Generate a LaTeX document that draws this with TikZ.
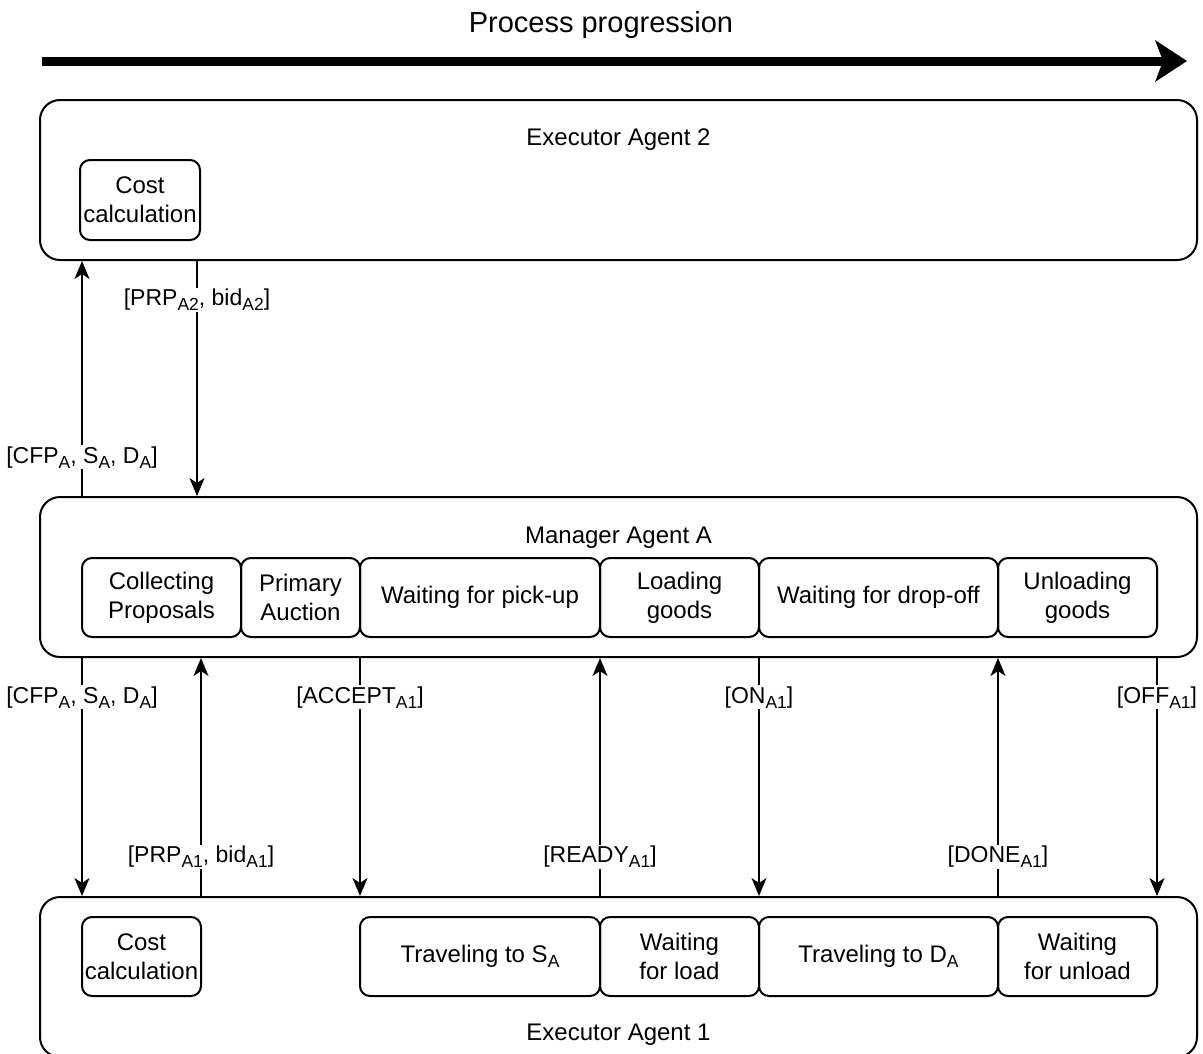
\documentclass[tikz,border=0pt]{standalone}
\usepackage{fontspec}
\setmainfont{Liberation Sans}
\usetikzlibrary{arrows.meta,positioning}

\newcommand{\lowsub}[1]{\raisebox{-5pt}{\fontsize{17.5}{17.5}\selectfont #1}}

\begin{document}
\begin{tikzpicture}[x=1pt, y=-1pt, line join=round,
	every node/.style={font=\fontsize{24}{28.8}\selectfont, align=center},
	agent/.style={draw, line width=2pt, rounded corners=20pt, minimum width=1157pt, minimum height=160pt},
	state/.style={draw, line width=2pt, rounded corners=10pt, minimum height=79pt, inner sep=0pt, outer sep=0pt},
	msg/.style={line width=2pt, -{Stealth[length=18pt, width=15pt, inset=5pt]}},
	tag/.style={fill=white, inner sep=1pt, pos=0.165, font=\fontsize{23}{27}\selectfont}]
	\useasboundingbox (0,0) rectangle (1203,1053);
	% process progression
	\node[font=\fontsize{29}{33}\selectfont] (title) at (601,25) {Process progression};
	\coordinate (pstart) at (42,61);
	\coordinate (pend) at (1187,61);
	\draw[line width=9pt, -{Stealth[length=32pt, width=42pt, inset=8pt, line width=0pt]}] (pstart) -- (pend);
	% agents
	\node[agent] (ex2) at (618.5,180) {};
	\node[agent] (mgr) at (618.5,577) {};
	\node[agent] (ex1) at (618.5,977) {};
	\node (ex2lbl) at ([yshift=-41pt]ex2.north) {Executor Agent 2};
	\node (mgrlbl) at ([yshift=-42pt]mgr.north) {Manager Agent A};
	\node (ex1lbl) at ([yshift=-139pt]ex1.north) {Executor Agent 1};
	% states of executor agent 2
	\node[state, minimum width=120pt, minimum height=80pt] (cc2) at (140,200) {Cost\\calculation};
	% states of manager agent
	\node[state, minimum width=159pt, anchor=west] (colp) at (82,597.5) {Collecting\\Proposals};
	\node[state, minimum width=119pt, right=0pt of colp] (auct) {Primary\\Auction};
	\node[state, minimum width=240pt, right=0pt of auct] (pick) {Waiting for pick-up};
	\node[state, minimum width=159pt, right=0pt of pick] (load) {Loading\\goods};
	\node[state, minimum width=239pt, right=0pt of load] (drop) {Waiting for drop-off};
	\node[state, minimum width=159pt, right=0pt of drop] (unl) {Unloading\\goods};
	% states of executor agent 1
	\node[state, minimum width=119pt, anchor=west] (cc1) at (82,956.5) {Cost\\calculation};
	\node[state, minimum width=240pt, anchor=west] (tos) at (360,956.5) {Traveling to S\lowsub{A}};
	\node[state, minimum width=159pt, right=0pt of tos] (wld) {Waiting\\for load};
	\node[state, minimum width=239pt, right=0pt of wld] (tod) {Traveling to D\lowsub{A}};
	\node[state, minimum width=159pt, right=0pt of tod] (wul) {Waiting\\for unload};
	% messages with executor agent 2
	\draw[msg] (mgr.north -| colp.west) -- node[tag] {[CFP\lowsub{A}, S\lowsub{A}, D\lowsub{A}]} (ex2.south -| colp.west);
	\draw[msg] ([xshift=-3pt]ex2.south -| cc2.east) -- node[tag] {[PRP\lowsub{A2}, bid\lowsub{A2}]} ([xshift=-3pt]mgr.north -| cc2.east);
	% messages with executor agent 1
	\draw[msg] (mgr.south -| colp.west) -- node[tag] {[CFP\lowsub{A}, S\lowsub{A}, D\lowsub{A}]} (ex1.north -| colp.west);
	\draw[msg] (ex1.north -| cc1.east) -- node[tag] {[PRP\lowsub{A1}, bid\lowsub{A1}]} (mgr.south -| cc1.east);
	\draw[msg] (mgr.south -| pick.west) -- node[tag] {[ACCEPT\lowsub{A1}]} (ex1.north -| pick.west);
	\draw[msg] (ex1.north -| load.west) -- node[tag] {[READY\lowsub{A1}]} (mgr.south -| load.west);
	\draw[msg] (mgr.south -| drop.west) -- node[tag] {[ON\lowsub{A1}]} (ex1.north -| drop.west);
	\draw[msg] (ex1.north -| unl.west) -- node[tag] {[DONE\lowsub{A1}]} (mgr.south -| unl.west);
	\draw[msg] (mgr.south -| unl.east) -- node[tag] {[OFF\lowsub{A1}]} (ex1.north -| unl.east);
\end{tikzpicture}
\end{document}
